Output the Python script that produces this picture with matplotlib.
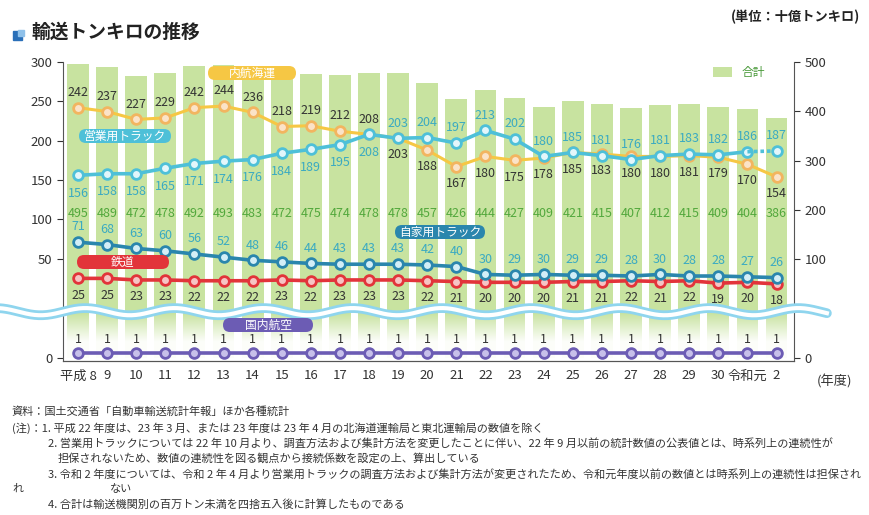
import numpy as np
import matplotlib.pyplot as plt
from matplotlib.scale import FuncScale
from matplotlib.patches import Rectangle, FancyBboxPatch

plt.rcParams['font.family'] = ['Noto Sans CJK JP', 'DejaVu Sans']

years = ['平成 8', '9', '10', '11', '12', '13', '14', '15', '16', '17', '18', '19', '20',
         '21', '22', '23', '24', '25', '26', '27', '28', '29', '30', '令和元', '2']
total = [495, 489, 472, 478, 492, 493, 483, 472, 475, 474, 478, 478, 457, 426, 444, 427,
         409, 421, 415, 407, 412, 415, 409, 404, 386]
naikou = [242, 237, 227, 229, 242, 244, 236, 218, 219, 212, 208, 203, 188, 167, 180, 175,
          178, 185, 183, 180, 180, 181, 179, 170, 154]
eigyou = [156, 158, 158, 165, 171, 174, 176, 184, 189, 195, 208, 203, 204, 197, 213, 202,
          180, 185, 181, 176, 181, 183, 182, 186, 187]
jika = [71, 68, 63, 60, 56, 52, 48, 46, 44, 43, 43, 43, 42, 40, 30, 29, 30, 29, 29, 28,
        30, 28, 28, 27, 26]
tetsudo = [25, 25, 23, 23, 22, 22, 22, 23, 22, 23, 23, 23, 22, 21, 20, 20, 20, 21, 21, 22,
           21, 22, 19, 20, 18]
kouku = [1] * 25

x = np.arange(len(years))


# broken axes: linear above, squeezed below the wave
def lf(v):
    v = np.asarray(v, float)
    return np.where(v >= 15, v, -76 + v * 91 / 15)


def li(s):
    s = np.asarray(s, float)
    return np.where(s >= 15, s, (s + 76) * 15 / 91)


def rf(v):
    v = np.asarray(v, float)
    return np.where(v >= 60, v, -100 + v * 160 / 60)


def ri(s):
    s = np.asarray(s, float)
    return np.where(s >= 60, s, (s + 100) * 60 / 160)


fig = plt.figure(figsize=(8.7, 5.15), dpi=100)
ax = fig.add_axes([63 / 870, (515 - 361) / 515, (794 - 63) / 870, (361 - 62) / 515])
ax2 = ax.twinx()
ax.set_zorder(2)
ax.patch.set_visible(False)

ax2.set_yscale(FuncScale(ax2, (rf, ri)))
ax2.set_ylim(float(ri(-106)), 500)
ax2.bar(x, total, width=0.75, color='#c8e3a0', label='合計', zorder=1)
ax2.set_yticks([0, 100, 200, 300, 400, 500])
ax2.legend(loc='upper right', frameon=False, fontsize=8.5, labelcolor='#4a9a3a',
           handlelength=1.6, handleheight=0.8, borderaxespad=0.2, bbox_to_anchor=(0.97, 1.01))

# fade bars out near the bottom
grad = np.zeros((100, 1, 4))
grad[..., :3] = 1
grad[:, 0, 3] = np.clip(np.linspace(1.6, -0.4, 100), 0, 0.95)
ax2.imshow(grad, extent=[0, 1, 0, 0.2], transform=ax2.transAxes, aspect='auto',
           origin='lower', zorder=2)

ax.set_yscale(FuncScale(ax, (lf, li)))
ax.set_xlim(-0.515, 24.6)
ax.set_ylim(float(li(-80)), 300)
ax.set_yticks([0, 50, 100, 150, 200, 250, 300])

mk = dict(marker='o', markersize=7, markeredgewidth=2)
ax.plot(x, naikou, color='#f6c744', markerfacecolor='#fbe3c8', markeredgecolor='#f2b560',
        lw=2.2, **mk, zorder=4)
ax.plot(x[:-1], eigyou[:-1], color='#4ec0d8', markerfacecolor='#e3f6fb', lw=2.6, **mk, zorder=5)
ax.plot(x[-2:], eigyou[-2:], color='#4ec0d8', lw=2.6, ls=(0, (1, 0.8)), zorder=5)
ax.plot(x[-1], eigyou[-1], color='#4ec0d8', markerfacecolor='#e3f6fb', **mk, zorder=5)
ax.plot(x, jika, color='#2a86ad', markerfacecolor='#d3eef7', lw=2.6, **mk, zorder=5)
ax.plot(x, tetsudo, color='#e2343a', markerfacecolor='#f6c4c4', lw=2.6, **mk, zorder=4)
ax.plot(x, kouku, color='#6c5cb4', markerfacecolor='#c7c0ea', lw=2.6, **mk, zorder=4)

dark = '#333333'
teal = '#3aaac2'
fs = 9
for i in x:
    ax.text(i, 108, str(total[i]), ha='center', va='center', fontsize=fs, color='#52a83c', zorder=6)
    dy = 11 if i <= 10 else -12
    ax.annotate(str(naikou[i]), (i, naikou[i]), xytext=(0, dy), textcoords='offset points',
                ha='center', va='center', fontsize=fs, color=dark, zorder=6)
    dy = -13 if i <= 10 else 11
    ax.annotate(str(eigyou[i]), (i, eigyou[i]), xytext=(0, dy), textcoords='offset points',
                ha='center', va='center', fontsize=fs, color=teal, zorder=6)
    ax.annotate(str(jika[i]), (i, jika[i]), xytext=(0, 11), textcoords='offset points',
                ha='center', va='center', fontsize=fs, color=teal, zorder=6)
    ax.annotate(str(tetsudo[i]), (i, tetsudo[i]), xytext=(0, -12), textcoords='offset points',
                ha='center', va='center', fontsize=fs, color=dark, zorder=6)
    ax.annotate(str(kouku[i]), (i, kouku[i]), xytext=(0, 10), textcoords='offset points',
                ha='center', va='center', fontsize=fs, color=dark, zorder=6)

# series name pills (figure pixel positions: center x, center y, width)
pills = [('内航海運', 252, 73, 102, '#f6c744'), ('営業用トラック', 125, 136, 106, '#4ec0d8'),
         ('自家用トラック', 440, 232, 104, '#2a86ad'), ('鉄道', 123, 262, 106, '#e2343a'),
         ('国内航空', 268, 325, 104, '#6c5cb4')]
ph = 14
for name, cx, cy, w, c in pills:
    fig.patches.append(FancyBboxPatch(((cx - w / 2 + ph / 2) / 870, 1 - (cy + ph / 2) / 515),
                                      (w - ph) / 870, ph / 515, transform=fig.transFigure,
                                      boxstyle=f'round,pad=0,rounding_size={ph / 2 / 870}',
                                      mutation_aspect=870 / 515, fc=c, ec='none', zorder=7))
    fig.text(cx / 870, 1 - cy / 515, name, ha='center', va='center', fontsize=8.5,
             color='white', zorder=8)

# wave break
wx = np.linspace(-0.09, 1.045, 600)
wy = 0.165 + 0.012 * np.sin(wx * 2 * np.pi * 8.2)
ax.plot(wx, wy, transform=ax.transAxes, color='#8fd5ee', lw=7, clip_on=False, zorder=3,
        solid_capstyle='round')
ax.plot(wx, wy, transform=ax.transAxes, color='white', lw=3, clip_on=False, zorder=3.1)

ax.set_xticks(x)
ax.set_xticklabels(years)
for a in (ax, ax2):
    a.tick_params(labelsize=9.5, colors='#333333', length=4)
    a.spines['top'].set_visible(False)
    for s in a.spines.values():
        s.set_color('#555555')
ax.tick_params(axis='x', length=0, pad=6)
ax2.spines['left'].set_visible(False)
ax.spines['right'].set_visible(False)
fig.text(835 / 870, 1 - 381 / 515, '(年度)', ha='center', va='center', fontsize=9.5, color='#333333')

# header
fig.patches.append(Rectangle((13 / 870, 1 - 40 / 515), 9 / 870, 9 / 515, transform=fig.transFigure,
                             color='#2a6fb8'))
fig.patches.append(Rectangle((18 / 870, 1 - 36 / 515), 6 / 870, 6 / 515, transform=fig.transFigure,
                             color='#8fc1ea'))
fig.text(32 / 870, 1 - 32 / 515, '輸送トンキロの推移', fontsize=13.5, fontweight='bold',
         color='#222222', va='center')
fig.text(860 / 870, 1 - 17 / 515, '(単位：十億トンキロ)', fontsize=9.5, fontweight='bold',
         color='#222222', va='center', ha='right')

notes = [
    (12, 412, '資料：国土交通省「自動車輸送統計年報」ほか各種統計'),
    (12, 428, '(注)：1. 平成 22 年度は、23 年 3 月、または 23 年度は 23 年 4 月の北海道運輸局と東北運輸局の数値を除く'),
    (48, 443, '2. 営業用トラックについては 22 年 10 月より、調査方法および集計方法を変更したことに伴い、22 年 9 月以前の統計数値の公表値とは、時系列上の連続性が'),
    (58, 458, '担保されないため、数値の連続性を図る観点から接続係数を設定の上、算出している'),
    (48, 474, '3. 令和 2 年度については、令和 2 年 4 月より営業用トラックの調査方法および集計方法が変更されたため、令和元年度以前の数値とは時系列上の連続性は担保され'),
    (12, 489, 'れ'),
    (110, 489, 'ない'),
    (48, 505, '4. 合計は輸送機関別の百万トン未満を四捨五入後に計算したものである'),
]
for nx, ny, t in notes:
    fig.text(nx / 870, 1 - ny / 515, t, fontsize=8, color='#333333', va='center')

fig.savefig('out.png', dpi=100)
